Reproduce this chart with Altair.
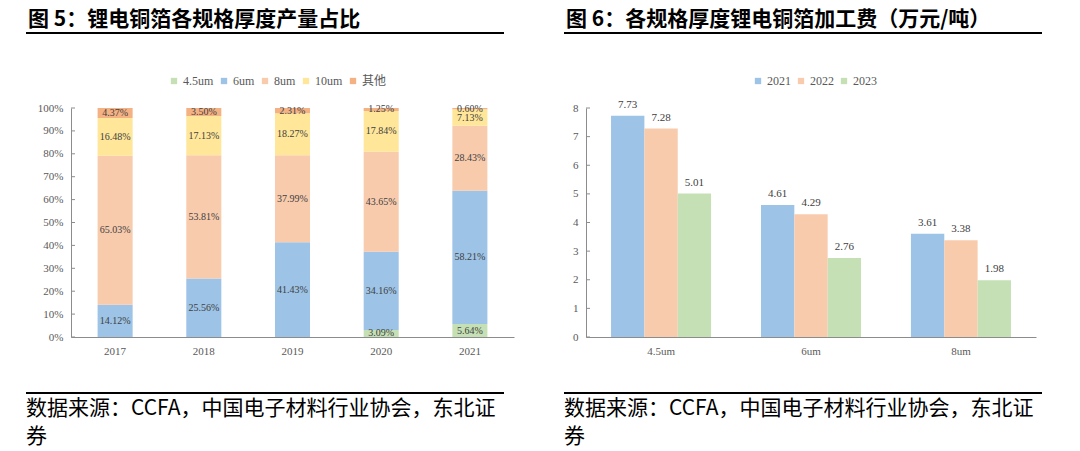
import altair as alt
import pandas as pd

# ---------------- data ----------------
years = ["2017", "2018", "2019", "2020", "2021"]
specs = ["4.5um", "6um", "8um", "10um", "其他"]
share_45 = [0, 0, 0, 3.09, 5.64]
share_6 = [14.12, 25.56, 41.43, 34.16, 58.21]
share_8 = [65.03, 53.81, 37.99, 43.65, 28.43]
share_10 = [16.48, 17.13, 18.27, 17.84, 7.13]
share_other = [4.37, 3.50, 2.31, 1.25, 0.60]
spec_colors = ["#C5E0B4", "#9DC3E6", "#F8CBAD", "#FFE699", "#F4B183"]
pct_ticks = [0, 10, 20, 30, 40, 50, 60, 70, 80, 90, 100]

fee_cats = ["4.5um", "6um", "8um"]
fee_years = ["2021", "2022", "2023"]
fee_2021 = [7.73, 4.61, 3.61]
fee_2022 = [7.28, 4.29, 3.38]
fee_2023 = [5.01, 2.76, 1.98]
year_colors = ["#9DC3E6", "#F8CBAD", "#C5E0B4"]
fee_ticks = [0, 1, 2, 3, 4, 5, 6, 7, 8]

title_left = "图 5：锂电铜箔各规格厚度产量占比"
title_right = "图 6：各规格厚度锂电铜箔加工费（万元/吨）"
source_line1 = "数据来源：CCFA，中国电子材料行业协会，东北证"
source_line2 = "券"

# ---------------- style ----------------
SERIF = "Liberation Serif, Noto Sans CJK SC"
CJK = "Noto Sans CJK SC"
AXIS_COLOR = "#8c8c8c"
LABEL_COLOR = "#595959"
H = 229
W1 = 443
W2 = 450

rows = []
for si, vals in enumerate([share_45, share_6, share_8, share_10, share_other]):
    for y, v in zip(years, vals):
        rows.append({"year": y, "spec": specs[si], "idx": si, "value": v})
share_df = pd.DataFrame(rows)

frows = []
for yi, vals in enumerate([fee_2021, fee_2022, fee_2023]):
    for c, v in zip(fee_cats, vals):
        frows.append({"cat": c, "yr": fee_years[yi], "value": v})
fee_df = pd.DataFrame(frows)

one = pd.DataFrame({"a": [0]})


def decorations(x_left, rule_end, title):
    t = alt.Chart(one).mark_text(
        text=title, align="left", baseline="middle", font=CJK,
        fontSize=21, fontWeight="bold", color="black"
    ).encode(x=alt.value(x_left + 2), y=alt.value(-88))
    r1 = alt.Chart(one).mark_rule(color="black", strokeWidth=2).encode(
        x=alt.value(x_left), x2=alt.value(rule_end), y=alt.value(-75))
    r2 = alt.Chart(one).mark_rule(color="black", strokeWidth=2).encode(
        x=alt.value(x_left), x2=alt.value(rule_end), y=alt.value(285))
    s1 = alt.Chart(one).mark_text(
        text=source_line1, align="left", baseline="middle", font=CJK,
        fontSize=21, color="black"
    ).encode(x=alt.value(x_left), y=alt.value(301))
    s2 = alt.Chart(one).mark_text(
        text=source_line2, align="left", baseline="middle", font=CJK,
        fontSize=21, color="black"
    ).encode(x=alt.value(x_left), y=alt.value(329))
    return [t, r1, r2, s1, s2]


def legend(x, y):
    return alt.Legend(
        title=None, orient="none", legendX=x, legendY=y, direction="horizontal",
        symbolType="square", symbolSize=40, symbolStrokeWidth=0,
        labelFont=SERIF, labelFontSize=12, labelColor=LABEL_COLOR,
        columnPadding=4, labelOffset=3, padding=0,
    )


def y_axis(values, expr=None):
    kw = dict(values=values, title=None, grid=False, ticks=False, tickSize=0,
              labelPadding=8, labelFont=SERIF, labelFontSize=11,
              labelColor=LABEL_COLOR, domainColor=AXIS_COLOR)
    if expr:
        kw["labelExpr"] = expr
    return alt.Axis(**kw)


def x_axis():
    return alt.Axis(title=None, labelAngle=0, ticks=False, tickSize=0,
                    labelPadding=8, labelFont=SERIF, labelFontSize=11,
                    labelColor=LABEL_COLOR, domainColor=AXIS_COLOR)


# ---------------- left panel ----------------
stacked = alt.Chart(share_df).transform_stack(
    stack="value", as_=["v0", "v1"], groupby=["year"],
    sort=[alt.SortField("idx", "ascending")]
).transform_calculate(
    mid="(datum.v0 + datum.v1) / 2",
    label="format(datum.value, '.2f') + '%'"
)

yax1 = y_axis(pct_ticks, "datum.value + '%'")
ysc1 = alt.Scale(domain=[0, 100], nice=False)
x1 = alt.X("year:N", sort=years,
           scale=alt.Scale(paddingInner=0.605, paddingOuter=0.3), axis=x_axis())

bars1 = stacked.mark_bar().encode(
    x=x1,
    y=alt.Y("v0:Q", scale=ysc1, axis=yax1),
    y2="v1:Q",
    color=alt.Color("spec:N", sort=specs,
                    scale=alt.Scale(domain=specs, range=spec_colors),
                    legend=legend(97, -33)),
)

labels1 = stacked.transform_filter("datum.value > 0").mark_text(
    font=SERIF, fontSize=10, color="#404040", baseline="middle"
).encode(x=alt.X("year:N", sort=years), y=alt.Y("mid:Q", scale=ysc1, axis=yax1),
         text="label:N")

ticks1 = alt.Chart(pd.DataFrame({"t": pct_ticks})).mark_rule(
    color=AXIS_COLOR).encode(
    y=alt.Y("t:Q", scale=ysc1, axis=yax1), x=alt.value(0), x2=alt.value(4))

left = alt.layer(bars1, labels1, ticks1,
                 *decorations(-45, 433, title_left)).properties(width=W1, height=H)

# ---------------- right panel ----------------
yax2 = y_axis(fee_ticks)
ysc2 = alt.Scale(domain=[0, 8], nice=False)
x2 = alt.X("cat:N", sort=fee_cats,
           scale=alt.Scale(paddingInner=0.333, paddingOuter=0.167), axis=x_axis())
xo2 = alt.XOffset("yr:N", sort=fee_years,
                  scale=alt.Scale(paddingInner=0, paddingOuter=0))

bars2 = alt.Chart(fee_df).mark_bar().encode(
    x=x2, xOffset=xo2,
    y=alt.Y("value:Q", scale=ysc2, axis=yax2),
    color=alt.Color("yr:N", sort=fee_years,
                    scale=alt.Scale(domain=fee_years, range=year_colors),
                    legend=legend(166, -33)),
)

labels2 = alt.Chart(fee_df).mark_text(
    font=SERIF, fontSize=11, color="#404040", baseline="middle", dy=-11
).encode(x=alt.X("cat:N", sort=fee_cats), xOffset=xo2,
         y=alt.Y("value:Q", scale=ysc2, axis=yax2),
         text=alt.Text("value:Q", format=".2f"))

ticks2 = alt.Chart(pd.DataFrame({"t": fee_ticks})).mark_rule(
    color=AXIS_COLOR).encode(
    y=alt.Y("t:Q", scale=ysc2, axis=yax2), x=alt.value(0), x2=alt.value(4))

right = alt.layer(bars2, labels2, ticks2,
                  *decorations(-22, 456, title_right)).properties(width=W2, height=H)

chart = alt.hconcat(left, right, spacing=49).properties(
    padding={"left": 17, "top": 1, "right": 2, "bottom": 3}
).configure_view(stroke=None).resolve_scale(color="independent")

chart.save("out.html", embed_options={"renderer": "svg", "actions": False})
